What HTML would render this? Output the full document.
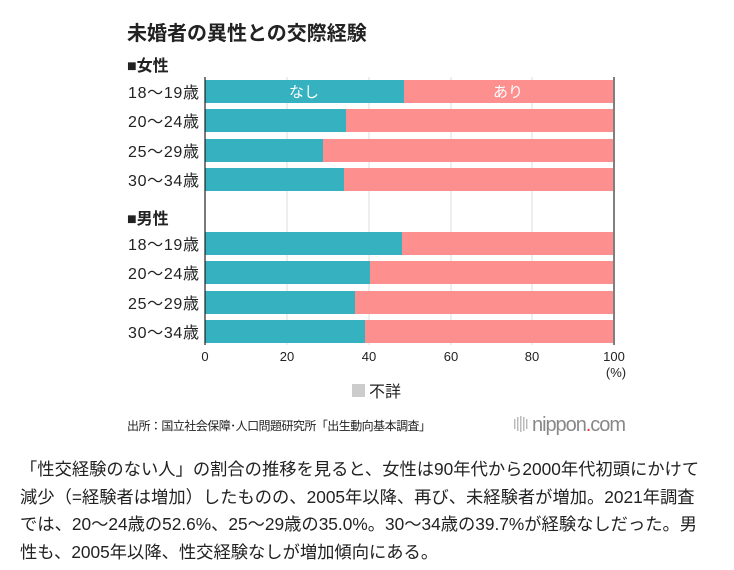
<!DOCTYPE html>
<html><head><meta charset="utf-8"><style>
body{margin:0;width:734px;height:570px;background:#fff;font-family:"Liberation Sans","Noto Sans CJK JP",sans-serif;color:#222;position:relative;overflow:hidden}
.a{position:absolute;white-space:nowrap}
.p{position:absolute;left:20px;font-size:17.3px;white-space:nowrap;color:#222}
</style></head><body>
<div class="a" style="left:127px;top:17px;font-size:20px;font-weight:bold">未婚者の異性との交際経験</div>
<div class="a" style="left:127px;top:52px;font-size:16px;font-weight:bold">■女性</div>
<div class="a" style="left:127px;top:205px;font-size:16px;font-weight:bold">■男性</div>
<svg class="a" style="left:0;top:0" width="734" height="440">
<g stroke="#ddd" stroke-width="1">
<line x1="287" y1="77" x2="287" y2="345"/><line x1="369" y1="77" x2="369" y2="345"/><line x1="451" y1="77" x2="451" y2="345"/><line x1="532" y1="77" x2="532" y2="345"/>
</g>
<g>
<rect x="205" y="80" width="408" height="23" fill="#fd8f8f"/><rect x="205" y="80" width="199" height="23" fill="#35b1bf"/>
<rect x="205" y="109" width="408" height="23" fill="#fd8f8f"/><rect x="205" y="109" width="141" height="23" fill="#35b1bf"/>
<rect x="205" y="139" width="408" height="23" fill="#fd8f8f"/><rect x="205" y="139" width="118" height="23" fill="#35b1bf"/>
<rect x="205" y="168" width="408" height="23" fill="#fd8f8f"/><rect x="205" y="168" width="139" height="23" fill="#35b1bf"/>
<rect x="205" y="232" width="408" height="23" fill="#fd8f8f"/><rect x="205" y="232" width="197" height="23" fill="#35b1bf"/>
<rect x="205" y="261" width="408" height="23" fill="#fd8f8f"/><rect x="205" y="261" width="165" height="23" fill="#35b1bf"/>
<rect x="205" y="291" width="408" height="23" fill="#fd8f8f"/><rect x="205" y="291" width="150" height="23" fill="#35b1bf"/>
<rect x="205" y="320" width="408" height="23" fill="#fd8f8f"/><rect x="205" y="320" width="160" height="23" fill="#35b1bf"/>
</g>
<line x1="205" y1="77" x2="205" y2="345" stroke="#222" stroke-width="1.2"/>
<line x1="614" y1="77" x2="614" y2="345" stroke="#555" stroke-width="1.5"/>
<g font-size="15" fill="#fff" text-anchor="middle" font-family="Liberation Sans,Noto Sans CJK JP,sans-serif">
<text x="304" y="97">なし</text><text x="508" y="97">あり</text></g>
<g font-size="16" fill="#222" text-anchor="end" font-family="Liberation Sans,Noto Sans CJK JP,sans-serif" textLength="71">
<text x="199" y="98" textLength="71">18〜19歳</text><text x="199" y="127" textLength="71">20〜24歳</text><text x="199" y="157" textLength="71">25〜29歳</text><text x="199" y="186" textLength="71">30〜34歳</text>
<text x="199" y="250" textLength="71">18〜19歳</text><text x="199" y="279" textLength="71">20〜24歳</text><text x="199" y="309" textLength="71">25〜29歳</text><text x="199" y="338" textLength="71">30〜34歳</text>
</g>
<g font-size="13" fill="#222" text-anchor="middle" font-family="Liberation Sans,sans-serif">
<text x="205" y="361">0</text><text x="287" y="361">20</text><text x="369" y="361">40</text><text x="451" y="361">60</text><text x="532" y="361">80</text><text x="614" y="361">100</text><text x="616" y="377">(%)</text>
</g>
<rect x="352" y="384" width="13" height="13" fill="#ccc"/>
<text x="369" y="397" font-size="16" fill="#222" font-family="Liberation Sans,Noto Sans CJK JP,sans-serif">不詳</text>
<text x="127" y="430" font-size="12" fill="#222" font-family="Liberation Sans,Noto Sans CJK JP,sans-serif" textLength="304">出所：国立社会保障･人口問題研究所「出生動向基本調査」</text>
<g fill="#bbb"><rect x="514" y="419" width="1.5" height="10"/><rect x="517" y="417" width="1.5" height="14"/><rect x="520" y="416" width="1.5" height="16"/><rect x="523" y="417" width="1.5" height="14"/><rect x="526" y="419" width="1.5" height="10"/></g>
<text x="532" y="431" font-size="20" fill="#888" font-family="Liberation Sans,sans-serif" textLength="94">nippon<tspan fill="#e33">.</tspan>com</text>
</svg>
<div class="p" style="top:455px">「性交経験のない人」の割合の推移を見ると、女性は90年代から2000年代初頭にかけて</div>
<div class="p" style="top:483px">減少（=経験者は増加）したものの、2005年以降、再び、未経験者が増加。2021年調査</div>
<div class="p" style="top:510px">では、20〜24歳の52.6%、25〜29歳の35.0%。30〜34歳の39.7%が経験なしだった。男</div>
<div class="p" style="top:538px">性も、2005年以降、性交経験なしが増加傾向にある。</div>
</body></html>
